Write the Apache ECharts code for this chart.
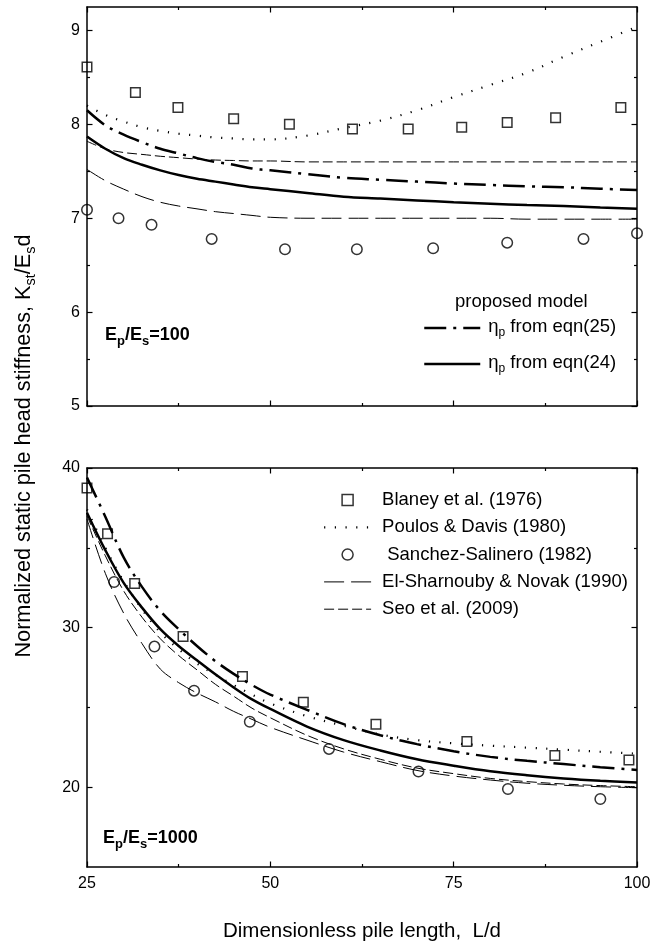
<!DOCTYPE html>
<html><head><meta charset="utf-8">
<script src="https://cdn.jsdelivr.net/npm/echarts@6/dist/echarts.min.js"></script>
<style>html,body{margin:0;padding:0;background:#fff}#chart{width:668px;height:943px}</style>
</head><body><div id="chart"></div>
<script>
// ---------- axis ticks ----------
const lengthTicks = [25, 50, 75, 100];
const stiffTicks100 = [5, 6, 7, 8, 9];
const stiffMinor100 = [5.5, 6.5, 7.5, 8.5];
const stiffTicks1000 = [20, 30, 40];
const stiffMinor1000 = [25, 35];

// ---------- series names ----------
const nameBlaney = 'Blaney et al. (1976)';
const namePoulos = 'Poulos & Davis (1980)';
const nameSanchez = ' Sanchez-Salinero (1982)';
const nameElSh = 'El-Sharnouby & Novak (1990)';
const nameSeo = 'Seo et al. (2009)';
const nameEqn25 = 'eqn(25)';
const nameEqn24 = 'eqn(24)';

// ---------- common L/d grid for curves ----------
const curveL = [25, 27.5, 30, 32.5, 35, 37.5, 40, 42.5, 45, 47.5, 50, 55, 60, 65, 70, 75, 80, 85, 90, 95, 100];

// ---------- Ep/Es = 100 ----------
const blaney100L = [25, 31.6, 37.4, 45, 52.6, 61.2, 68.8, 76.1, 82.3, 88.9, 97.8];
const blaney100K = [8.61, 8.34, 8.18, 8.06, 8.0, 7.95, 7.95, 7.97, 8.02, 8.07, 8.18];
const sanchez100L = [25, 29.3, 33.8, 42, 52, 61.8, 72.2, 82.3, 92.7, 100];
const sanchez100K = [7.09, 7.0, 6.93, 6.78, 6.67, 6.67, 6.68, 6.74, 6.78, 6.84];
const poulos100 = [8.2, 8.1, 8.03, 7.97, 7.93, 7.9, 7.88, 7.86, 7.85, 7.84, 7.84, 7.88, 7.96, 8.04, 8.15, 8.29, 8.42, 8.55, 8.72, 8.88, 9.04];
const elSh100 = [7.52, 7.4, 7.31, 7.23, 7.17, 7.13, 7.1, 7.07, 7.05, 7.03, 7.01, 7.0, 7.0, 7.0, 7.0, 7.0, 7.0, 6.99, 6.99, 6.99, 6.99];
const seo100 = [7.82, 7.74, 7.7, 7.68, 7.66, 7.645, 7.63, 7.62, 7.615, 7.61, 7.61, 7.6, 7.6, 7.6, 7.6, 7.6, 7.6, 7.6, 7.6, 7.6, 7.6];
const eqn25_100 = [8.15, 7.99, 7.89, 7.81, 7.74, 7.69, 7.64, 7.6, 7.57, 7.53, 7.51, 7.47, 7.43, 7.41, 7.39, 7.37, 7.355, 7.34, 7.33, 7.315, 7.3];
const eqn24_100 = [7.87, 7.74, 7.64, 7.57, 7.51, 7.46, 7.42, 7.39, 7.36, 7.33, 7.31, 7.27, 7.23, 7.21, 7.19, 7.17, 7.155, 7.14, 7.13, 7.115, 7.1];

// ---------- Ep/Es = 1000 ----------
const blaney1000L = [25, 27.8, 31.5, 38.1, 46.2, 54.5, 64.4, 76.8, 88.8, 98.9];
const blaney1000K = [38.74, 35.88, 32.76, 29.44, 26.93, 25.32, 23.95, 22.86, 21.98, 21.7];
const sanchez1000L = [28.7, 34.2, 39.6, 47.2, 58, 70.2, 82.4, 95];
const sanchez1000K = [32.86, 28.81, 26.05, 24.1, 22.4, 20.98, 19.89, 19.26];
const poulos1000 = [37.4, 35.0, 32.9, 31.15, 29.7, 28.65, 27.75, 27.05, 26.4, 25.8, 25.25, 24.45, 23.85, 23.3, 22.95, 22.75, 22.6, 22.48, 22.35, 22.22, 22.1];
const elSh1000 = [36.8, 33.4, 30.9, 29.0, 27.4, 26.55, 25.9, 25.35, 24.75, 24.25, 23.75, 22.95, 22.2, 21.6, 21.05, 20.7, 20.45, 20.25, 20.12, 20.03, 19.97];
const seo1000 = [37.0, 34.5, 32.3, 30.65, 29.3, 28.25, 27.35, 26.45, 25.7, 24.95, 24.35, 23.25, 22.4, 21.75, 21.2, 20.85, 20.55, 20.35, 20.2, 20.1, 20.03];
const eqn25_1000 = [39.4, 36.95, 34.4, 32.55, 31.05, 29.9, 28.85, 27.9, 27.1, 26.4, 25.8, 24.85, 23.95, 23.25, 22.7, 22.25, 21.9, 21.65, 21.45, 21.25, 21.08];
const eqn24_1000 = [37.2, 34.85, 32.8, 31.25, 29.9, 28.85, 27.95, 27.07, 26.25, 25.5, 24.9, 23.8, 22.95, 22.3, 21.75, 21.35, 21.0, 20.75, 20.55, 20.4, 20.29];

// ---------- styling ----------
const FONT = "'Liberation Sans', Arial, Helvetica, sans-serif";
const AX = { color: '#000', width: 1.5 };
const TK = { color: '#000', width: 1.2 };
const STYLE = {
  poulos: { color: '#000', width: 2.2, type: [1.2, 9.5], cap: 'butt' },
  elSh:   { color: '#000', width: 1, type: [20, 7], cap: 'butt' },
  seo:    { color: '#000', width: 1, type: [10, 4], cap: 'butt' },
  eqn25:  { color: '#000', width: 2.5, type: [22, 7, 3, 7], cap: 'butt' },
  eqn24:  { color: '#000', width: 2.5, type: 'solid', cap: 'butt' }
};

function pairs(xs, ys) { return xs.map((x, i) => [x, ys[i]]); }

function xAxisDef(grid, pos, showLabels) {
  return {
    type: 'value', gridIndex: grid, position: pos, min: 25, max: 100, interval: 25,
    axisLine: { show: true, onZero: false, lineStyle: AX },
    axisTick: { show: true, inside: true, length: 5.5, lineStyle: TK },
    minorTick: { show: true, splitNumber: 2, length: 3, lineStyle: TK },
    axisLabel: { show: showLabels, margin: 9, color: '#000', fontSize: 16, fontFamily: FONT },
    splitLine: { show: false }, minorSplitLine: { show: false }
  };
}
function yAxisDef(grid, pos, min, max, ticks, tickLen, showLine, showLabels) {
  return {
    type: 'value', gridIndex: grid, position: pos, min: min, max: max,
    axisLine: { show: showLine, onZero: false, lineStyle: AX },
    axisTick: { show: true, inside: true, length: tickLen, customValues: ticks, lineStyle: TK },
    axisLabel: { show: showLabels, customValues: ticks, margin: 7, color: '#000', fontSize: 16, fontFamily: FONT },
    splitLine: { show: false }
  };
}

function curve(name, ys, xi, yi, style, z) {
  return {
    type: 'line', name: name, xAxisIndex: xi, yAxisIndex: yi,
    data: pairs(curveL, ys), symbol: 'none', smooth: 0.35,
    lineStyle: style, itemStyle: { color: '#000' }, z: z || 2, silent: true
  };
}
function points(name, xs, ys, xi, yi, symbol, size) {
  return {
    type: 'scatter', name: name, xAxisIndex: xi, yAxisIndex: yi,
    data: pairs(xs, ys), symbol: symbol, symbolSize: size,
    itemStyle: { color: 'rgba(0,0,0,0)', borderColor: '#000', borderWidth: 1.5 }, z: 3, silent: true
  };
}

const series = [
  // top panel
  curve(namePoulos, poulos100, 0, 0, STYLE.poulos),
  curve(nameElSh, elSh100, 0, 0, STYLE.elSh),
  curve(nameSeo, seo100, 0, 0, STYLE.seo),
  curve(nameEqn25, eqn25_100, 0, 0, STYLE.eqn25),
  curve(nameEqn24, eqn24_100, 0, 0, STYLE.eqn24),
  points(nameBlaney, blaney100L, blaney100K, 0, 0, 'rect', 9.5),
  points(nameSanchez, sanchez100L, sanchez100K, 0, 0, 'circle', 10.5),
  // bottom panel
  curve(namePoulos, poulos1000, 2, 4, STYLE.poulos),
  curve(nameElSh, elSh1000, 2, 4, STYLE.elSh),
  curve(nameSeo, seo1000, 2, 4, STYLE.seo),
  curve(nameEqn25, eqn25_1000, 2, 4, STYLE.eqn25),
  curve(nameEqn24, eqn24_1000, 2, 4, STYLE.eqn24),
  points(nameBlaney, blaney1000L, blaney1000K, 2, 4, 'rect', 9.5),
  points(nameSanchez, sanchez1000L, sanchez1000K, 2, 4, 'circle', 10.5)
];

const hiddenSym = { opacity: 0 };
const openSym = { color: 'rgba(0,0,0,0)', borderColor: '#000', borderWidth: 1.5 };

const chart = echarts.init(document.getElementById('chart'), null, { renderer: 'canvas' });
chart.setOption({
  animation: false,
  backgroundColor: '#fff',
  grid: [
    { left: 87, width: 550, top: 7, height: 399, containLabel: false },
    { left: 87, width: 550, top: 468, height: 399, containLabel: false }
  ],
  xAxis: [
    xAxisDef(0, 'bottom', false),
    xAxisDef(0, 'top', false),
    xAxisDef(1, 'bottom', true),
    xAxisDef(1, 'top', false)
  ],
  yAxis: [
    yAxisDef(0, 'left', 5, 9.25, stiffTicks100, 5.5, true, true),
    yAxisDef(0, 'left', 5, 9.25, stiffMinor100, 3, false, false),
    yAxisDef(0, 'right', 5, 9.25, stiffTicks100, 5.5, true, false),
    yAxisDef(0, 'right', 5, 9.25, stiffMinor100, 3, false, false),
    yAxisDef(1, 'left', 15, 40, stiffTicks1000, 5.5, true, true),
    yAxisDef(1, 'left', 15, 40, stiffMinor1000, 3, false, false),
    yAxisDef(1, 'right', 15, 40, stiffTicks1000, 5.5, true, false),
    yAxisDef(1, 'right', 15, 40, stiffMinor1000, 3, false, false)
  ],
  legend: [
    {
      data: [
        { name: nameEqn25, itemStyle: hiddenSym },
        { name: nameEqn24, itemStyle: hiddenSym }
      ],
      orient: 'vertical', left: 423, top: 317, padding: 0, itemWidth: 56, itemHeight: 12, itemGap: 14,
      selectedMode: false,
      lineStyle: { width: 'inherit' },
      formatter: function (n) { return '{t|η}{s|p}{t| from ' + n + '}'; },
      textStyle: {
        color: '#000', fontSize: 18.5, fontFamily: FONT, padding: [0, 0, 0, 3],
        rich: {
          t: { color: '#000', fontSize: 18.5, fontFamily: FONT, lineHeight: 22, verticalAlign: 'top' },
          s: { color: '#000', fontSize: 12, fontFamily: FONT, lineHeight: 12, verticalAlign: 'bottom' }
        }
      }
    },
    {
      data: [
        { name: nameBlaney, icon: 'path://M0,0H10V10H0Z', itemStyle: openSym },
        { name: namePoulos, itemStyle: hiddenSym },
        { name: nameSanchez, icon: 'circle', itemStyle: openSym },
        { name: nameElSh, itemStyle: hiddenSym },
        { name: nameSeo, itemStyle: hiddenSym }
      ],
      orient: 'vertical', left: 323, top: 490, padding: 0, itemWidth: 47, itemHeight: 11, itemGap: 7.3,
      selectedMode: false,
      lineStyle: { width: 'inherit' },
      textStyle: { color: '#000', fontSize: 18.5, fontFamily: FONT, lineHeight: 20, padding: [0, 0, 0, 6] }
    }
  ],
  graphic: [
    {
      type: 'text', x: 26, y: 446, rotation: Math.PI / 2, silent: true,
      style: {
        text: '{t|Normalized static pile head stiffness, K}{s|st}{t|/E}{s|s}{t|d}',
        align: 'center', verticalAlign: 'middle', fill: '#000',
        rich: {
          t: { fill: '#000', fontSize: 21.7, fontFamily: FONT, lineHeight: 25, verticalAlign: 'top' },
          s: { fill: '#000', fontSize: 14.5, fontFamily: FONT, lineHeight: 14.5, verticalAlign: 'bottom' }
        }
      }
    },
    {
      type: 'text', x: 362, y: 931, silent: true,
      style: { text: 'Dimensionless pile length,  L/d', align: 'center', verticalAlign: 'middle', fill: '#000', fontSize: 20.5, fontFamily: FONT }
    },
    {
      type: 'text', x: 455, y: 302, silent: true,
      style: { text: 'proposed model', align: 'left', verticalAlign: 'middle', fill: '#000', fontSize: 18.5, fontFamily: FONT }
    },
    {
      type: 'text', x: 105, y: 337, silent: true,
      style: {
        text: '{b|E}{s|p}{b|/E}{s|s}{b|=100}', align: 'left', verticalAlign: 'middle', fill: '#000',
        rich: {
          b: { fill: '#000', fontSize: 18, fontWeight: 'bold', fontFamily: FONT, lineHeight: 22, verticalAlign: 'top' },
          s: { fill: '#000', fontSize: 13, fontWeight: 'bold', fontFamily: FONT, lineHeight: 13, verticalAlign: 'bottom' }
        }
      }
    },
    {
      type: 'text', x: 103, y: 840, silent: true,
      style: {
        text: '{b|E}{s|p}{b|/E}{s|s}{b|=1000}', align: 'left', verticalAlign: 'middle', fill: '#000',
        rich: {
          b: { fill: '#000', fontSize: 18, fontWeight: 'bold', fontFamily: FONT, lineHeight: 22, verticalAlign: 'top' },
          s: { fill: '#000', fontSize: 13, fontWeight: 'bold', fontFamily: FONT, lineHeight: 13, verticalAlign: 'bottom' }
        }
      }
    }
  ],
  series: series
});
</script>
</body></html>
